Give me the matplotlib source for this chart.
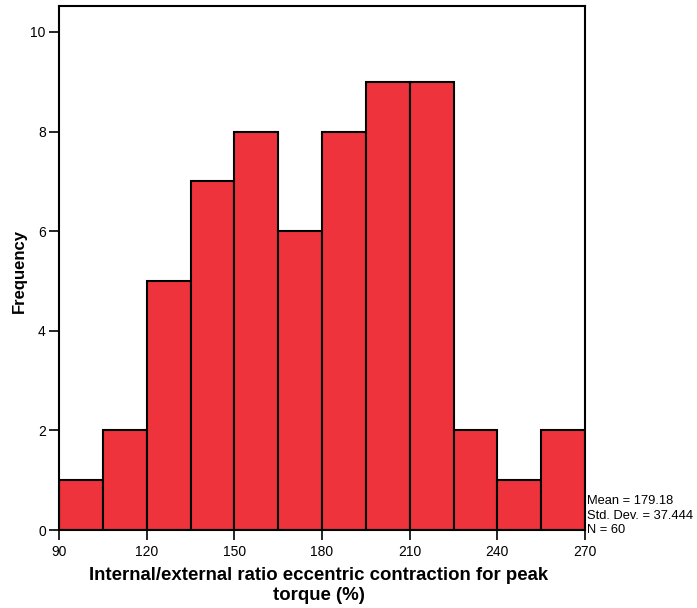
import matplotlib
matplotlib.use("Agg")
import matplotlib.pyplot as plt
import numpy as np

bin_edges = [90, 105, 120, 135, 150, 165, 180, 195, 210, 225, 240, 255, 270]
counts = [1, 2, 5, 7, 8, 6, 8, 9, 9, 2, 1, 2]
xticks = [90, 120, 150, 180, 210, 240, 270]
yticks = [0, 2, 4, 6, 8, 10]
stats_lines = ["Mean = 179.18", "Std. Dev. = 37.444", "N = 60"]
xlabel_lines = ["Internal/external ratio eccentric contraction for peak", "torque (%)"]
ylabel = "Frequency"

plt.rcParams['font.family'] = ['Liberation Sans', 'DejaVu Sans']

W, H = 697, 608
fig = plt.figure(figsize=(W/100, H/100), dpi=100)
ax = fig.add_axes([59/W, 1-530/H, (585-59)/W, (530-6)/H])

lefts = np.array(bin_edges[:-1])
widths = np.diff(bin_edges)
ax.bar(lefts, counts, width=widths, align='edge', color='#ef333c',
       edgecolor='black', linewidth=1.5)

ax.set_xlim(90, 270)
ax.set_ylim(0, 10.52)
ax.set_xticks(xticks)
ax.set_yticks(yticks)
ax.tick_params(direction='out', length=7.5, width=1.2, labelsize=10, pad=2)
ax.tick_params(axis='x', pad=3.5)
for s in ax.spines.values():
    s.set_linewidth(1.5)

fig.text(19.5/W, 1-271/H, ylabel, rotation=90, ha='center', va='center',
         fontsize=12, fontweight='bold')
fig.text(319/W, 1-580/H, xlabel_lines[0], ha='center', va='baseline',
         fontsize=13.4, fontweight='bold')
fig.text(319/W, 1-600/H, xlabel_lines[1], ha='center', va='baseline',
         fontsize=13.4, fontweight='bold')

fig.text(587/W, 1-495/H, "\n".join(stats_lines), ha='left', va='top',
         fontsize=9.3, linespacing=1.3)

fig.savefig("out.png", dpi=100)
